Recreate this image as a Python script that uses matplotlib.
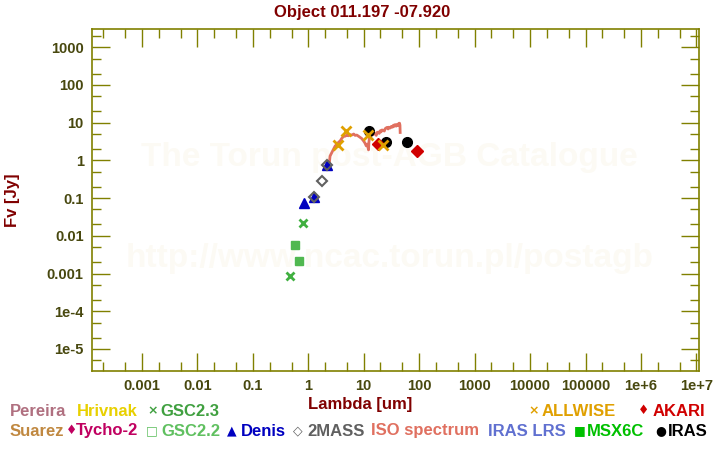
import numpy as np
import matplotlib
matplotlib.use("Agg")
import matplotlib.pyplot as plt
from matplotlib.ticker import FixedLocator, LogLocator, NullFormatter

plt.rcParams['font.family'] = ['Liberation Sans', 'DejaVu Sans']
plt.rcParams['font.weight'] = 'bold'

# photometry (wavelength in um, flux in Jy)
gsc23_wl = [0.46, 0.82]
gsc23_f = [0.00085, 0.0215]
gsc22_wl = [0.57, 0.67]
gsc22_f = [0.0058, 0.0022]
denis_wl = [0.85, 1.26, 2.2]
denis_f = [0.075, 0.11, 0.77]
tmass_wl = [1.26, 1.74, 2.2]
tmass_f = [0.11, 0.28, 0.77]
allwise_wl = [3.37, 4.7, 11.9, 22.7]
allwise_f = [2.54, 6.2, 4.7, 2.5]
iras_wl = [12.2, 25.0, 61.0]
iras_f = [6.1, 3.05, 3.05]
akari_wl = [18.0, 93.0]
akari_f = [2.8, 1.73]

# ISO spectrum
iso_wl = [2.40, 2.47, 2.65, 2.86, 3.05, 3.29, 3.5, 3.77, 4.0, 4.3, 4.64, 5.0, 5.3,
          5.71, 6.1, 6.6, 7.0, 7.5, 8.0, 8.65, 9.2, 9.9, 10.5, 11.1, 11.6, 12.2,
          12.4, 12.6, 13.0, 13.5, 14.1, 14.6, 15.2, 16.1, 16.8, 17.4, 18.2, 19.0,
          19.8, 20.5, 21.3, 22.4, 23.5, 24.5, 26.2, 27.5, 28.5, 30.0, 31.5, 33.0,
          34.4, 35.5, 36.8, 38.5, 40.0, 41.5, 43.0, 44.2, 45.0, 45.4]
iso_f = [0.85, 1.30, 1.6, 2.0, 2.4, 2.7, 3.0, 3.3, 3.8, 4.3, 4.4, 4.7, 4.5,
         4.8, 4.7, 5.0, 4.6, 4.7, 4.4, 4.06, 3.8, 3.3, 2.9, 2.43, 2.7, 1.9,
         3.0, 3.7, 5.0, 4.4, 5.7, 4.8, 5.3, 5.0, 4.6, 5.5, 5.6, 5.2, 6.1, 5.7,
         6.4, 6.3, 6.0, 7.0, 7.5, 6.8, 7.6, 7.2, 8.0, 7.6, 8.6, 8.0, 8.9, 8.1,
         9.0, 8.4, 9.6, 9.7, 8.6, 5.5]

x_ticks = [1e-3, 1e-2, 1e-1, 1, 10, 100, 1e3, 1e4, 1e5, 1e6, 1e7]
x_labels = ['0.001', '0.01', '0.1', '1', '10', '100', '1000', '10000', '100000', '1e+6', '1e+7']
y_ticks = [1e-5, 1e-4, 1e-3, 1e-2, 1e-1, 1, 10, 100, 1000]
y_labels = ['1e-5', '1e-4', '0.001', '0.01', '0.1', '1', '10', '100', '1000']

olive = '#808000'
ticktxt = '#48480f'
darkred = '#800000'

fig = plt.figure(figsize=(7.2, 4.5), dpi=100)
ax = fig.add_axes([92/720, 1 - 371/450, 607/720, 342/450])
ax.set_xscale('log')
ax.set_yscale('log')
ax.set_xlim(1.26e-4, 1.11e7)
ax.set_ylim(2.6e-6, 3050)

# watermark
ax.text(0.49, 0.625, 'The Torun post-AGB Catalogue', transform=ax.transAxes, ha='center', va='center',
        fontsize=24, fontweight='bold', color='#fcfaf4', zorder=0)
ax.text(0.49, 0.33, 'http://www.ncac.torun.pl/postagb', transform=ax.transAxes, ha='center', va='center',
        fontsize=24, fontweight='bold', color='#fcfaf4', zorder=0)

ax.plot(iso_wl, iso_f, color='#e07060', lw=2, zorder=2)
ax.plot(gsc23_wl, gsc23_f, 'x', color='#40b040', ms=6, mew=2, ls='none', zorder=3)
ax.plot(gsc22_wl, gsc22_f, 's', color='#50b850', ms=6, ls='none', zorder=3)
ax.plot(denis_wl, denis_f, '^', color='#0000c0', ms=7, ls='none', zorder=3)
ax.plot(tmass_wl, tmass_f, 'D', mfc='none', mec='#606060', ms=5, mew=1.5, ls='none', zorder=4)
ax.plot(allwise_wl, allwise_f, 'x', color='#e0a000', ms=7, mew=2, ls='none', zorder=4)
ax.plot(iras_wl, iras_f, 'o', color='black', ms=7, ls='none', zorder=3)
ax.plot(akari_wl, akari_f, 'D', color='#d00000', ms=6, ls='none', zorder=3)

ax.xaxis.set_major_locator(FixedLocator(x_ticks))
ax.set_xticklabels(x_labels)
ax.yaxis.set_major_locator(FixedLocator(y_ticks))
ax.set_yticklabels(y_labels)
ax.xaxis.set_minor_locator(LogLocator(base=10, subs=(2, 5), numticks=30))
ax.yaxis.set_minor_locator(LogLocator(base=10, subs=(2, 5), numticks=30))
ax.xaxis.set_minor_formatter(NullFormatter())
ax.yaxis.set_minor_formatter(NullFormatter())
ax.tick_params(which='both', direction='in', top=True, right=True, color=olive, width=1,
               labelsize=10.5, labelcolor=ticktxt, pad=6)
ax.tick_params(which='major', length=13)
ax.tick_params(which='minor', length=6.5)
for lbl in ax.get_xticklabels() + ax.get_yticklabels():
    lbl.set_fontweight('bold')
for s in ax.spines.values():
    s.set_color(olive)
    s.set_linewidth(1.2)

fig.text(362/720, 1 - 12/450, 'Object 011.197 -07.920', ha='center', va='center',
         fontsize=12, fontweight='bold', color=darkred)
fig.text(360/720, 1 - 404/450, 'Lambda [um]', ha='center', va='center',
         fontsize=12, fontweight='bold', color=darkred)
fig.text(12/720, 1 - 200/450, 'Fv [Jy]', ha='center', va='center', rotation=90,
         fontsize=12, fontweight='bold', color=darkred)

# legend (glyph, label, colour, x of glyph, x of label, row y)
leg = [
    ('', 'Pereira', '#b07080', 0, 10, 411),
    ('', 'Hrivnak', '#e8d000', 0, 77, 411),
    ('\u00d7', 'GSC2.3', '#40a040', 147, 160, 411),
    ('\u00d7', 'ALLWISE', '#e0a000', 528, 542, 411),
    ('\u2666', 'AKARI', '#d00000', 638, 653, 411),
    ('', 'Suarez', '#c08840', 0, 10, 431),
    ('\u2666', 'Tycho-2', '#c00060', 66, 76, 431),
    ('\u25a1', 'GSC2.2', '#60c060', 146, 161, 431),
    ('\u25b2', 'Denis', '#0000c0', 227, 241, 431),
    ('\u25c7', '2MASS', '#606060', 293, 307, 431),
    ('', 'ISO spectrum', '#e07060', 0, 371, 431),
    ('', 'IRAS LRS', '#6070d0', 0, 488, 431),
    ('\u25a0', 'MSX6C', '#00c000', 574, 587, 431),
    ('\u25cf', 'IRAS', 'black', 655, 668, 431),
]
for glyph, label, col, gx, lx, yy in leg:
    if glyph:
        fig.text(gx/720, 1 - yy/450, glyph, ha='left', va='center', fontsize=9,
                 color=col, family=['DejaVu Sans'])
    fig.text(lx/720, 1 - yy/450, label, ha='left', va='center', fontsize=12,
             fontweight='bold', color=col)

fig.savefig('out.png', dpi=100)
